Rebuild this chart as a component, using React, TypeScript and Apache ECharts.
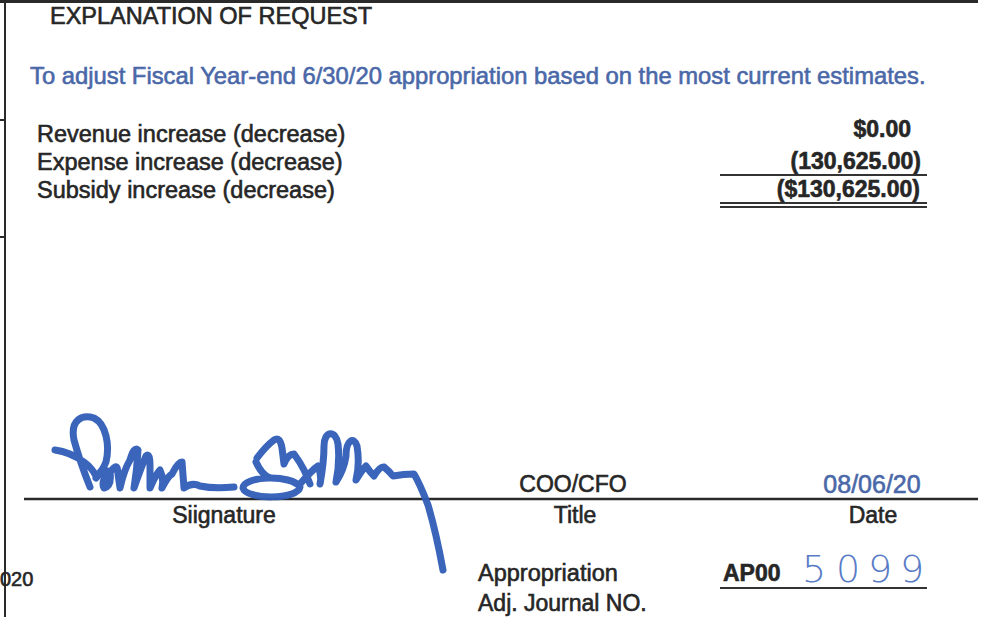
import React, { useEffect, useRef } from "react";
import * as echarts from "echarts";

// ---- content ----
const heading = "EXPLANATION OF REQUEST";
const purpose = "To adjust Fiscal Year-end 6/30/20 appropriation based on the most current estimates.";
const lineLabels = ["Revenue increase (decrease)", "Expense increase (decrease)", "Subsidy increase (decrease)"];
const lineAmounts = ["$0.00", "(130,625.00)", "($130,625.00)"];
const signLabels = ["Siignature", "Title", "Date"];
const signValues = ["COO/CFO", "08/06/20"];
const journalLabels = ["Appropriation", "Adj. Journal NO."];
const journalPrefix = "AP00";
const journalDigits = ["5", "0", "9", "9"];
const cutYear = "020";

const SIG_PATH =
  "M55,450 Q70,452 84,462 Q92,468 96,476 " +
  "M90,487 Q80,462 74,440 C70,420 82,414 94,418 C106,424 110,445 106,462 Q102,472 96,476 " +
  "M96,478 Q104,468 110,472 Q112,486 104,488 Q100,480 112,470 Q118,462 118,474 L120,488 Q124,470 130,460 Q134,446 138,450 Q137,470 134,488 Q140,470 146,456 Q150,452 150,466 L150,488 Q156,474 160,470 Q164,478 162,488 Q168,476 172,474 Q178,462 182,462 L184,488 Q192,482 200,486 Q214,489 234,487 " +
  "M243,488 C243,476 292,474 300,487 C298,500 246,500 243,488 Z " +
  "M256,462 Q262,475 270,478 M257,458 Q266,446 274,440 Q280,436 282,448 L284,464 Q288,454 294,454 Q300,462 304,470 Q308,478 310,484 " +
  "M300,484 Q312,470 318,466 Q322,476 320,484 Q324,462 324,446 C324,430 336,430 338,444 Q340,462 336,482 Q344,470 346,456 C346,440 354,436 357,446 Q360,464 356,480 Q362,470 366,466 Q370,472 374,476 Q380,466 384,467 Q390,472 393,476 Q404,474 414,474 Q420,484 428,505 Q436,532 443,570";

const INK = "#262626";
const BLUE = "#4a68a8";
const PEN = "#2f5db7";
const FONT = "'Liberation Sans', Arial, sans-serif";

function txt(text: string, x: number, y: number, opts: any = {}) {
  const fill = opts.fill || INK;
  return {
    type: "text",
    x,
    y,
    silent: true,
    scaleX: opts.scaleX || 1,
    style: {
      text,
      fill,
      stroke: opts.thin ? null : fill,
      lineWidth: opts.thin ? 0 : 0.6,
      fontSize: opts.size || 23,
      fontFamily: opts.family || FONT,
      fontWeight: opts.weight || "normal",
      textAlign: opts.align || "left",
      textVerticalAlign: "middle",
      align: opts.align || "left",
      verticalAlign: "middle",
    },
  };
}

function hline(x1: number, x2: number, y: number, w = 2, color = "#333") {
  return {
    type: "line",
    silent: true,
    shape: { x1, y1: y, x2, y2: y },
    style: { stroke: color, lineWidth: w },
  };
}

let registered = false;

export default function App() {
  const ref = useRef<HTMLDivElement>(null);
  useEffect(() => {
    if (!ref.current) return;
    if (!registered) {
      echarts.graphic.registerShape("signature", echarts.graphic.extendPath(SIG_PATH, {}) as any);
      registered = true;
    }
    const chart = echarts.init(ref.current, null, { renderer: "svg" });
    const labelY = [134, 162, 190];
    const amountX = [911, 921, 920];
    const amountY = [129, 161, 189];
    const digitX = [814, 848, 880, 912];
    const elements: any[] = [
      // frame
      hline(0, 978, 1.5, 3, "#2a2a2a"),
      { type: "line", silent: true, shape: { x1: 5, y1: 0, x2: 5, y2: 617 }, style: { stroke: "#2a2a2a", lineWidth: 2 } },
      hline(0, 5, 120, 2, "#2a2a2a"),
      hline(0, 5, 237, 2, "#2a2a2a"),
      txt(heading, 50, 16, { size: 23.5 }),
      txt(purpose, 30, 75, { fill: BLUE, size: 23.8 }),
      ...lineLabels.map((l, i) => txt(l, 37, labelY[i], { size: 23.5 })),
      ...lineAmounts.map((a, i) => txt(a, amountX[i], amountY[i], { align: "right", weight: "bold" })),
      hline(720, 927, 175, 2),
      hline(720, 927, 203, 2),
      hline(720, 927, 207, 2),
      // signature block
      hline(24, 978, 499, 2.5, "#2a2a2a"),
      txt(signValues[0], 573, 484, { align: "center" }),
      txt(signValues[1], 872, 484, { align: "center", fill: BLUE, size: 25 }),
      txt(signLabels[0], 224, 515, { align: "center" }),
      txt(signLabels[1], 575, 515, { align: "center" }),
      txt(signLabels[2], 873, 515, { align: "center" }),
      txt(cutYear, 0, 579, { size: 20 }),
      txt(journalLabels[0], 478, 573, { size: 23.5 }),
      txt(journalLabels[1], 478, 603),
      txt(journalPrefix, 723, 573, { weight: "bold" }),
      hline(720, 927, 588, 2),
      ...journalDigits.map((d, i) =>
        txt(d, digitX[i], 569, {
          align: "center",
          size: 38,
          thin: true,
          fill: "#5a7cc6",
          weight: "lighter",
          family: "'DejaVu Sans', sans-serif",
        })
      ),
      {
        type: "signature",
        silent: true,
        x: 0,
        y: 0,
        style: { stroke: PEN, fill: null, lineWidth: 7, lineCap: "round", lineJoin: "round", opacity: 0.95 },
      },
    ];
    chart.setOption({
      animation: false,
      backgroundColor: "#ffffff",
      graphic: { elements },
    });
    return () => chart.dispose();
  }, []);
  return (
    <div
      ref={ref}
      style={{ position: "fixed", left: 0, top: 0, width: 984, height: 617, background: "#fff" }}
    />
  );
}
